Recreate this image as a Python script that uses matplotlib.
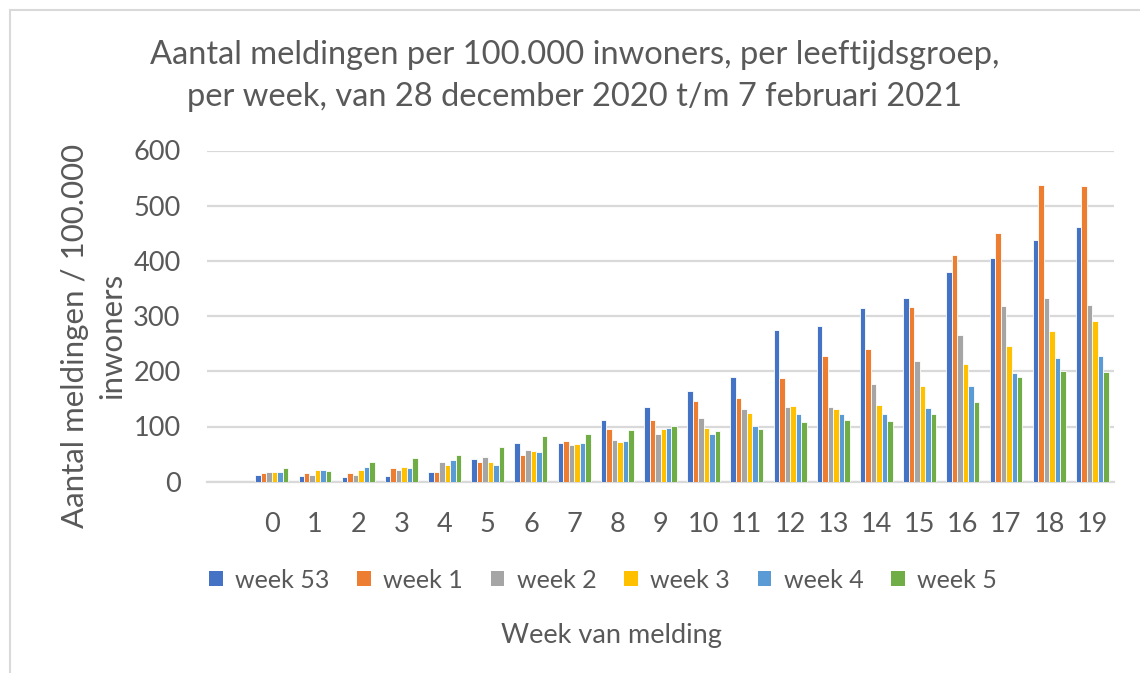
import matplotlib
matplotlib.use("Agg")
import matplotlib.pyplot as plt
from matplotlib.patches import Rectangle, Patch
import numpy as np

plt.rcParams['font.family'] = ['Lato', 'DejaVu Sans']

categories = ["0", "1", "2", "3", "4", "5", "6", "7", "8", "9",
              "10", "11", "12", "13", "14", "15", "16", "17", "18", "19"]
series_names = ["week 53", "week 1", "week 2", "week 3", "week 4", "week 5"]
week53 = [13, 11, 9, 11, 18, 41, 70, 71, 112, 135, 164, 190, 275, 282, 315, 333, 379, 405, 437, 461]
week1 = [15, 16, 15, 24, 18, 35, 48, 73, 96, 111, 147, 152, 187, 228, 240, 316, 410, 450, 538, 536]
week2 = [18, 13, 13, 22, 36, 44, 57, 67, 75, 87, 115, 131, 135, 135, 177, 218, 266, 318, 333, 320]
week3 = [17, 21, 22, 27, 30, 36, 56, 68, 72, 95, 98, 125, 137, 132, 139, 174, 214, 246, 273, 292]
week4 = [17, 22, 27, 24, 39, 30, 53, 70, 73, 98, 87, 101, 123, 123, 122, 133, 173, 197, 225, 228]
week5 = [24, 19, 36, 43, 48, 62, 82, 86, 93, 101, 92, 95, 109, 111, 110, 123, 144, 190, 201, 199]
series = [week53, week1, week2, week3, week4, week5]
colors = ["#4472C4", "#ED7D31", "#A5A5A5", "#FFC000", "#5B9BD5", "#70AD47"]
yticks = [0, 100, 200, 300, 400, 500, 600]

W, H = 1140, 673
fig = plt.figure(figsize=(W / 100, H / 100), dpi=100)
txt = "#595959"
grid = "#D9D9D9"

# outer frame
fig.patches.append(Rectangle((10 / W, -0.05), 1.2, (H - 10) / H + 0.05, transform=fig.transFigure,
                             fill=False, edgecolor=grid, linewidth=1.5))

ax = fig.add_axes([207 / W, (H - 481.7) / H, (1114 - 207) / W, (481.7 - 150.5) / H])
x = np.arange(len(categories))
bw = 0.127
for i, (vals, c, name) in enumerate(zip(series, colors, series_names)):
    ax.bar(x + (i - 2.5) * bw, vals, width=bw, color=c, edgecolor="white", linewidth=0.6,
           label=name, zorder=3)

ax.set_xlim(-1.5, 19.5)
ax.set_ylim(0, 600)
ax.set_yticks(yticks)
ax.set_xticks(x)
ax.set_xticklabels(categories)
ax.yaxis.grid(True, color=grid, linewidth=1.6, zorder=0)
ax.set_axisbelow(True)
for s in ["top", "right", "left"]:
    ax.spines[s].set_visible(False)
ax.spines["bottom"].set_color(grid)
ax.spines["bottom"].set_linewidth(1.6)
ax.tick_params(axis="both", length=0, labelsize=19.5, colors=txt)
ax.tick_params(axis="y", pad=19)
ax.tick_params(axis="x", pad=22)

fig.text(575 / W, 1 - 55 / H, "Aantal meldingen per 100.000 inwoners, per leeftijdsgroep,",
         ha="center", va="center", fontsize=23.5, color=txt)
fig.text(575 / W, 1 - 97 / H, "per week, van 28 december 2020 t/m 7 februari 2021",
         ha="center", va="center", fontsize=23.5, color=txt)

fig.text(75 / W, 1 - 336 / H, "Aantal meldingen / 100.000", rotation=90,
         ha="center", va="center", fontsize=22.5, color=txt)
fig.text(112 / W, 1 - 336 / H, "inwoners", rotation=90,
         ha="center", va="center", fontsize=22.5, color=txt)

fig.text(611 / W, 1 - 635 / H, "Week van melding", ha="center", va="center", fontsize=19.5, color=txt)

handles = [Patch(facecolor=c, edgecolor="none") for c in colors]
leg = fig.legend(handles, series_names, loc="center", bbox_to_anchor=(603 / W, 1 - 580 / H),
                 ncol=6, frameon=False, fontsize=18, handlelength=0.55, handleheight=0.55,
                 handletextpad=0.5, columnspacing=1.1, labelcolor=txt)

fig.savefig("out.png", dpi=100)
